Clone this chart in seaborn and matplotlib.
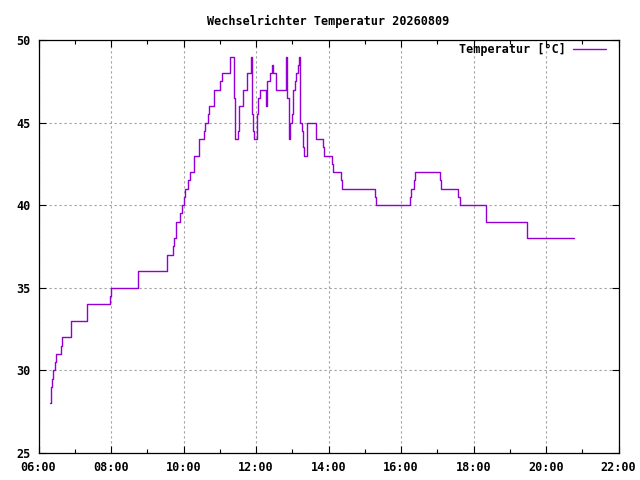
import matplotlib
matplotlib.use("Agg")
import matplotlib.pyplot as plt
import seaborn as sns
import pandas as pd
from matplotlib.ticker import MultipleLocator

# ---- data (change points of the stepped temperature curve) ----
times = [
    "06:19", "06:20", "06:21", "06:23", "06:24", "06:28", "06:29", "06:38", "06:39",
    "06:54", "07:20", "07:21", "07:59", "08:00", "08:44", "08:45", "09:33", "09:42",
    "09:44", "09:48", "09:55", "09:57", "10:01", "10:03", "10:08", "10:10", "10:18",
    "10:26", "10:34", "10:36", "10:41", "10:43", "10:51", "11:01", "11:03", "11:17",
    "11:23", "11:25", "11:26", "11:31", "11:32", "11:39", "11:45", "11:51", "11:52",
    "11:53", "11:55", "11:57", "12:01", "12:02", "12:04", "12:06", "12:16", "12:18",
    "12:19", "12:23", "12:26", "12:28", "12:33", "12:49", "12:52", "12:54", "12:57",
    "12:59", "13:01", "13:02", "13:04", "13:06", "13:09", "13:11", "13:13", "13:16",
    "13:17", "13:18", "13:20", "13:25", "13:40", "13:51", "13:53", "14:05", "14:07",
    "14:21", "14:23", "15:17", "15:19", "16:15", "16:17", "16:21", "16:23", "17:05",
    "17:07", "17:35", "17:37", "18:21", "19:29", "20:46",
]
temps = [
    28.0, 28.5, 29.0, 29.5, 30.0, 30.5, 31.0, 31.5, 32.0,
    33.0, 33.5, 34.0, 34.5, 35.0, 35.5, 36.0, 37.0, 37.5,
    38.0, 39.0, 39.5, 40.0, 40.5, 41.0, 41.5, 42.0, 43.0,
    44.0, 44.5, 45.0, 45.5, 46.0, 47.0, 47.5, 48.0, 49.0,
    46.5, 44.5, 44.0, 44.5, 46.0, 47.0, 48.0, 48.5, 49.0,
    45.5, 44.5, 44.0, 44.5, 45.5, 46.5, 47.0, 46.0, 47.0,
    47.5, 48.0, 48.5, 48.0, 47.0, 49.0, 46.5, 44.0, 45.0,
    45.5, 46.5, 47.0, 47.5, 48.0, 48.5, 49.0, 45.0, 44.5,
    44.0, 43.5, 43.0, 45.0, 44.0, 43.5, 43.0, 42.5, 42.0,
    41.5, 41.0, 40.5, 40.0, 40.5, 41.0, 41.5, 42.0, 41.5,
    41.0, 40.5, 40.0, 39.0, 38.0, 38.0,
]
x_ticks = [6, 8, 10, 12, 14, 16, 18, 20, 22]
x_tick_labels = ["06:00", "08:00", "10:00", "12:00", "14:00", "16:00", "18:00", "20:00", "22:00"]
y_ticks = [25, 30, 35, 40, 45, 50]
title = "Wechselrichter Temperatur 20260809"
series_label = "Temperatur [°C]"

def to_hours(s):
    h, m = s.split(":")
    return int(h) + int(m) / 60.0

df = pd.DataFrame({"hour": [to_hours(t) for t in times], "temp": temps})

sns.set_theme(style="white")
plt.rcParams["font.family"] = ["DejaVu Sans Mono"]
plt.rcParams["font.weight"] = "bold"
plt.rcParams["text.color"] = "black"
plt.rcParams["xtick.color"] = "black"
plt.rcParams["ytick.color"] = "black"

fig = plt.figure(figsize=(6.4, 4.8), dpi=100)
ax = fig.add_axes([38.5 / 640, 1 - 453 / 480, (618.5 - 38.5) / 640, (453 - 40) / 480])

sns.lineplot(data=df, x="hour", y="temp", ax=ax, color="#9400D3", linewidth=1.0,
             drawstyle="steps-post", label=series_label, estimator=None)

ax.set_xlim(6, 22)
ax.set_ylim(25, 50)
ax.set_xticks(x_ticks)
ax.set_xticklabels(x_tick_labels)
ax.xaxis.set_minor_locator(MultipleLocator(1))
ax.set_yticks(y_ticks)
ax.set_yticklabels([str(v) for v in y_ticks])
ax.set_xlabel("")
ax.set_ylabel("")

fs = 8.5
for lab in ax.get_xticklabels() + ax.get_yticklabels():
    lab.set_fontsize(fs)
    lab.set_fontweight("bold")
    lab.set_color("black")

ax.tick_params(axis="both", which="major", direction="in", length=5, width=0.8,
               top=True, right=True, bottom=True, left=True, color="black", pad=6)
ax.tick_params(axis="x", which="minor", direction="in", length=3, width=0.8,
               top=True, bottom=True, color="black")
ax.grid(True, which="major", color="#a0a0a0", linestyle=(0, (2, 2.5)), linewidth=0.8)
for sp in ax.spines.values():
    sp.set_visible(True)
    sp.set_color("black")
    sp.set_linewidth(0.9)

ax.set_title(title, fontsize=fs, fontweight="bold", pad=11, color="black")

leg = ax.legend(loc="upper right", bbox_to_anchor=(606 / 640, 1 - 43 / 480),
                bbox_transform=fig.transFigure, frameon=False, markerfirst=False,
                fontsize=fs, handlelength=2.8, handletextpad=0.6, borderpad=0,
                borderaxespad=0)
for t in leg.get_texts():
    t.set_fontweight("bold")
    t.set_color("black")

fig.savefig("out.png", dpi=100)
